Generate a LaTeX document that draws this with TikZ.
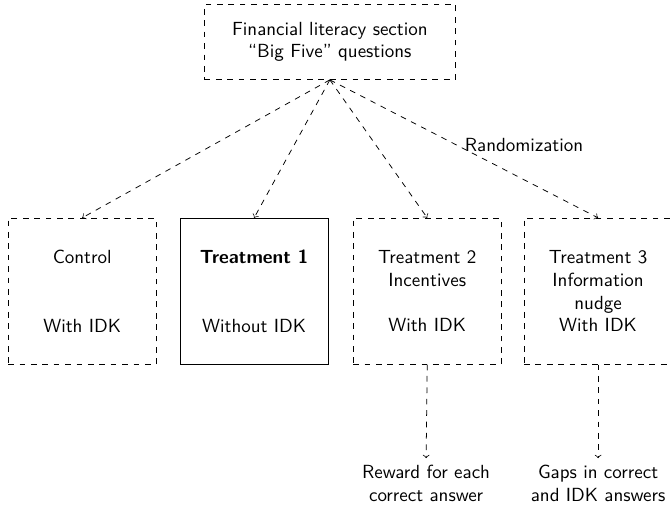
\documentclass[tikz,border=0pt]{standalone}
\usetikzlibrary{arrows}
\usepackage{amssymb}

\tikzset{
  grpbox/.style={draw,dashed,minimum width=2.74cm,minimum height=2.70cm,align=center,font=\sffamily},
  link/.style={->,dashed}
}

\begin{document}
\begin{tikzpicture}
				\useasboundingbox (0,0) rectangle (12.39,9.415);
				% Questions
				\node [draw,dashed,minimum width=4.64cm,minimum height=1.39cm,align=center,font=\sffamily] (quiz) at (6.10,8.64) {Financial literacy section\\``Big Five'' questions};
				% Groupes
				\node [grpbox] (ctrl) at (1.52,4.03) {Control\\~\\~\\With IDK};
				\node [grpbox,solid] (treatA) at (4.70,4.03) {\textbf{Treatment 1}\\~\\~\\Without IDK};
				\node [grpbox] (treatB) at (7.90,4.03) {Treatment 2\\Incentives\\~\\With IDK};
				\node [grpbox] (treatC) at (11.06,4.03) {Treatment 3\\Information\\nudge\\With IDK};
				% Fl\`eches
				\draw [link] (quiz.south) -- (ctrl.north);
				\draw [link] (quiz.south) -- (treatA.north);
				\draw [link] (quiz.south) -- (treatB.north);
				\draw [link] (quiz.south) -- (treatC.north);
				\node [font=\sffamily] (rand) at (9.69,6.73) {Randomization};
				% Effets
				\node [align=center,font=\sffamily] (reward) at (7.88,0.48) {Reward for each\\correct answer};
				\node [align=center,font=\sffamily] (gaps) at (11.06,0.48) {Gaps in correct\\and IDK answers};
				\draw [link] (treatB.south) -- (reward.north);
				\draw [link] (treatC.south) -- (gaps.north);
				\end{tikzpicture}
\end{document}
